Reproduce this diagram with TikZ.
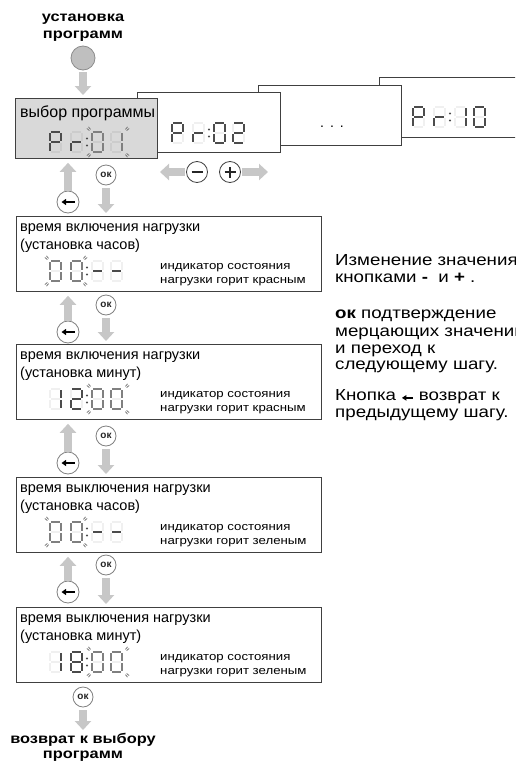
\documentclass[tikz,border=0pt]{standalone}
\usepackage{fontspec}
\setmainfont{Liberation Sans}
\newfontfamily\widesans[FakeStretch=1.17]{Liberation Sans}
\usepackage{xstring}
\usetikzlibrary{calc}
\usetikzlibrary{arrows.meta}
\tikzset{
	panel/.style={
		draw=black!75,
		line width=0.8pt,
		fill=white,
		anchor=north west,
		inner sep=0pt,
		minimum width=305pt,
		minimum height=75pt,
	},
	selpanel/.style={
		panel,
		fill=black!15,
		minimum width=142pt,
		minimum height=60pt,
	},
	backpanel/.style={
		panel,
		minimum width=143pt,
		minimum height=60pt,
	},
	heading/.style={
		anchor=north west,
		inner sep=0pt,
		align=left,
		font=\fontsize{14.5}{18}\selectfont,
	},
	hint/.style={
		anchor=north west,
		inner sep=0pt,
		align=left,
		font=\widesans\fontsize{11.3}{14}\selectfont,
	},
	note/.style={
		anchor=north west,
		inner sep=0pt,
		align=left,
		font=\widesans\fontsize{16}{16.6}\selectfont,
	},
	caption/.style={
		anchor=north,
		inner sep=0pt,
		align=center,
		font=\widesans\bfseries\fontsize{14}{16.5}\selectfont,
	},
	blockarrow/.style={
		draw=black!22,
		line width=7.5pt,
		-{Triangle[length=9pt,width=16pt]},
	},
	setbtn/.style={
		circle, draw=black!45, fill=black!25,
		line width=0.8pt, minimum size=24pt, inner sep=0pt,
	},
	okbtn/.style={
		circle, draw=black!50, fill=white,
		line width=0.8pt, minimum size=20pt, inner sep=0pt,
		text=black!85, font=\bfseries\fontsize{10}{10}\selectfont,
	},
	backbtn/.style={
		circle, draw=black!50, fill=white,
		line width=0.8pt, minimum size=22pt, inner sep=0pt,
		path picture={\draw[black, line width=1.8pt, -{Triangle[length=4.5pt,width=6pt]}]
			([xshift=6.5pt]path picture bounding box.center) -- ([xshift=-6.5pt]path picture bounding box.center);},
	},
	pmbtn/.style={
		circle, draw=black!75, fill=white,
		line width=0.8pt, minimum size=21pt, inner sep=0pt,
	},
	minus/.style={
		pmbtn,
		path picture={\draw[black!85, line width=1.8pt]
			([xshift=-5.5pt]path picture bounding box.center) -- ([xshift=5.5pt]path picture bounding box.center);},
	},
	plus/.style={
		pmbtn,
		path picture={\draw[black!85, line width=1.8pt]
			([xshift=-5.5pt]path picture bounding box.center) -- ([xshift=5.5pt]path picture bounding box.center)
			([yshift=-5.5pt]path picture bounding box.center) -- ([yshift=5.5pt]path picture bounding box.center);},
	},
	segon/.style={draw=black!70, line width=1.3pt},
	segblink/.style={draw=black!50, line width=1.3pt},
	segoff/.style={draw=black, draw opacity=0.06, line width=1.3pt},
	blinkline/.style={draw=black!60, line width=0.7pt},
}

% the small arrow of the back key, inside running text
\newcommand{\backsign}{\tikz[baseline=-0.35ex, x=1pt, y=1pt]
	\draw[line width=1.5pt, -{Triangle[length=4.5pt,width=5.5pt]}] (11,0) -- (0,0);}

% one cell of the display: x, y (top left), lit segments, style
\newcommand{\segdigit}[4]{%
	\begin{scope}[shift={(#1,#2)}]
		\foreach \s/\xa/\ya/\xb/\yb in {a/1.4/0/9.6/0, b/11/1.4/11/8.6, c/11/11.4/11/18.6,
				d/1.4/20/9.6/20, e/0/11.4/0/18.6, f/0/1.4/0/8.6, g/1.4/10/9.6/10}{
			\IfSubStr{#3}{\s}{\draw[#4] (\xa,\ya) -- (\xb,\yb);}{\draw[segoff] (\xa,\ya) -- (\xb,\yb);}
		}
	\end{scope}}

\newcommand{\blinkmark}[4]{%
	\begin{scope}[shift={(#1,#2)}, xscale=#3, yscale=#4]
		\draw[blinkline] (0,1.2) -- (2,3.6) (1.2,0) -- (3.6,2);
	\end{scope}}

\newcommand{\blinkpair}[2]{%
	\blinkmark{#1-1.5}{#2-1.5}{-1}{-1}
	\blinkmark{#1-1.5}{#2+21.5}{-1}{1}
	\blinkmark{#1+33.5}{#2-1.5}{1}{-1}
	\blinkmark{#1+33.5}{#2+21.5}{1}{1}}

% x, y, four cells, style of the left pair, style of the right pair, blinking pair (0/1/2)
\newcommand{\clockface}[9]{%
	\segdigit{#1}{#2}{#3}{#7}
	\segdigit{#1+21}{#2}{#4}{#7}
	\fill[black!70] (#1+37,#2+6.5) circle (1.1pt) (#1+37,#2+13.5) circle (1.1pt);
	\segdigit{#1+42}{#2}{#5}{#8}
	\segdigit{#1+61}{#2}{#6}{#8}
	\ifcase#9\or
		\blinkpair{#1}{#2}%
	\or
		\blinkpair{#1+42}{#2}%
	\fi}

\begin{document}
\begin{tikzpicture}[x=1pt, y=-1pt]
		\path[use as bounding box, clip] (0,0) rectangle (515,763);

		\node[caption] 			(settxt) at (83,10) {\strut установка\\программ};
		\node[setbtn] 			(setbtn) at (83,58) {};

		\node[backpanel] 		(prten) at (379,77) {};
		\node[backpanel] 		(prdots) at (258,85) {};
		\node[backpanel] 		(prtwo) at (137,92) {};
		\node[selpanel] 		(sel) at (15,98) {};

		\node[heading, font=\fontsize{16}{18}\selectfont] (seltxt) at (20,104.4) {\strut выбор программы};
		\node[font=\fontsize{14}{14}\selectfont] (dots) at (332,127) {.\hspace{6pt}.\hspace{6pt}.};

		\clockface{50}{132}{abefg}{eg}{abcdef}{bc}{segon}{segblink}{2}
		\clockface{172}{123}{abefg}{eg}{abcdef}{abdeg}{segon}{segon}{0}
		\clockface{413}{107}{abefg}{eg}{bc}{abcdef}{segon}{segon}{0}

		\draw[blockarrow, shorten <=2pt, shorten >=3pt] (setbtn.south) -- (setbtn.south |- sel.north);

		\node[minus] 			(decbtn) at (197,172) {};
		\node[plus] 			(incbtn) at (230,172) {};
		\coordinate 			(decend) at (160,172);
		\coordinate 			(incend) at (268,172);

		\draw[blockarrow, shorten <=1pt] (decbtn.west) -- (decend);
		\draw[blockarrow, shorten <=1pt] (incbtn.east) -- (incend);

%*********

		\node[panel] 			(onhour) at (16,216) {};
		\node[heading] 			(onhourtxt) at (20,218.4) {\strut время включения нагрузки\\(установка часов)};
		\node[hint] 			(onhourled) at (160,259.2) {\strut индикатор состояния\\нагрузки горит красным};
		\clockface{50}{261}{abcdef}{abcdef}{g}{g}{segblink}{segon}{1}

		\node[okbtn] 			(ok1) at (106,175) {ок};
		\node[backbtn] 			(back1) at (68,202) {};

		\draw[blockarrow, shorten >=4pt] (back1.north) -- (back1.north |- sel.south);
		\draw[blockarrow, shorten <=3pt, shorten >=3pt] (ok1.south) -- (ok1.south |- onhour.north);

%*********

		\node[panel] 			(onmin) at (16,344) {};
		\node[heading] 			(onmintxt) at (20,346.4) {\strut время включения нагрузки\\(установка минут)};
		\node[hint] 			(onminled) at (160,387.2) {\strut индикатор состояния\\нагрузки горит красным};
		\clockface{50}{389}{bc}{abdeg}{abcdef}{abcdef}{segon}{segblink}{2}

		\node[okbtn] 			(ok2) at (106,305) {ок};
		\node[backbtn] 			(back2) at (68,332) {};

		\draw[blockarrow, shorten >=4pt] (back2.north) -- (back2.north |- onhour.south);
		\draw[blockarrow, shorten <=3pt, shorten >=3pt] (ok2.south) -- (ok2.south |- onmin.north);

%*********

		\node[panel] 			(offhour) at (16,477) {};
		\node[heading] 			(offhourtxt) at (20,479.4) {\strut время выключения нагрузки\\(установка часов)};
		\node[hint] 			(offhourled) at (160,520.2) {\strut индикатор состояния\\нагрузки горит зеленым};
		\clockface{50}{522}{abcdef}{abcdef}{g}{g}{segblink}{segon}{1}

		\node[okbtn] 			(ok3) at (106,436) {ок};
		\node[backbtn] 			(back3) at (68,463) {};

		\draw[blockarrow, shorten >=4pt] (back3.north) -- (back3.north |- onmin.south);
		\draw[blockarrow, shorten <=3pt, shorten >=3pt] (ok3.south) -- (ok3.south |- offhour.north);

%*********

		\node[panel] 			(offmin) at (16,607) {};
		\node[heading] 			(offmintxt) at (20,609.4) {\strut время выключения нагрузки\\(установка минут)};
		\node[hint] 			(offminled) at (160,650.2) {\strut индикатор состояния\\нагрузки горит зеленым};
		\clockface{50}{652}{bc}{abcdefg}{abcdef}{abcdef}{segon}{segblink}{2}

		\node[okbtn] 			(ok4) at (106,565) {ок};
		\node[backbtn] 			(back4) at (68,592) {};

		\draw[blockarrow, shorten >=4pt] (back4.north) -- (back4.north |- offhour.south);
		\draw[blockarrow, shorten <=3pt, shorten >=3pt] (ok4.south) -- (ok4.south |- offmin.north);

%*********

		\node[okbtn] 			(ok5) at (83,697) {ок};
		\node[caption, font=\widesans\bfseries\fontsize{14}{15}\selectfont] (endtxt) at (83,733) {\strut возврат к выбору\\программ};

		\draw[blockarrow, shorten <=3pt, shorten >=3pt] (ok5.south) -- (endtxt.north);

%*********

		\node[note] 			(hintpm) at (335,254) {\strut Изменение значения\\кнопками \textbf{-}\ \ и \textbf{+} .};
		\node[note] 			(hintok) at (335,307) {\strut\textbf{ок} подтверждение\\мерцающих значений\\и переход к\\следующему шагу.};
		\node[note] 			(hintback) at (335,389) {\strut Кнопка \backsign{} возврат к\\предыдущему шагу.};

	\end{tikzpicture}
\end{document}
